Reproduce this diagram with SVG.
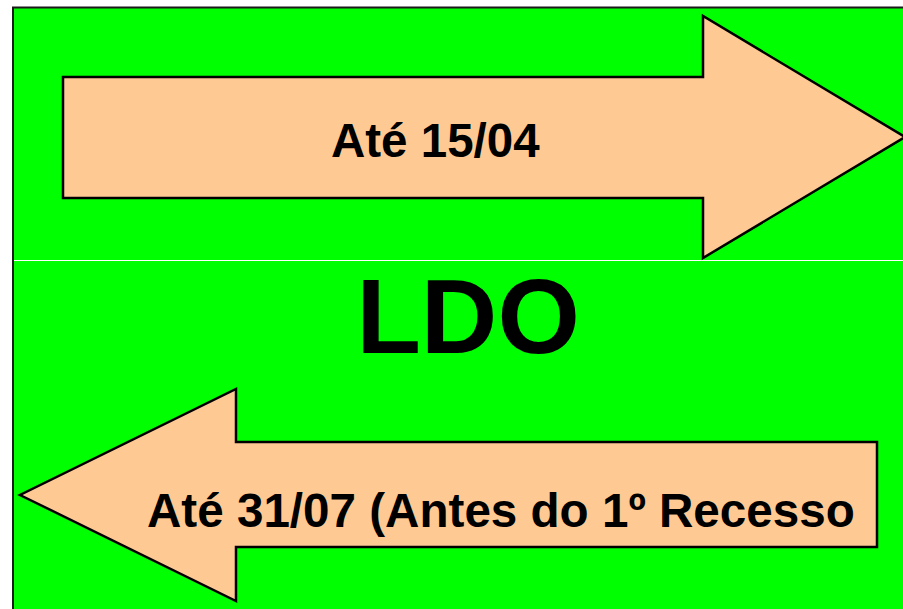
<svg xmlns="http://www.w3.org/2000/svg" width="903" height="609" viewBox="0 0 903 609">
<style>
.arrow{fill:#ffc993;stroke:#000;stroke-width:2.5;stroke-linejoin:miter}
.lbl{font-family:"Liberation Sans",Arial,sans-serif;font-weight:bold;fill:#000}
</style>
<rect x="0" y="0" width="903" height="609" fill="#fff"/>
<rect x="13" y="7.5" width="900" height="610" fill="#00ff00" stroke="#1a1a1a" stroke-width="2"/>
<line x1="14" y1="260.5" x2="903" y2="260.5" stroke="#fff" stroke-width="1.2"/>
<g id="arrow-top">
<polygon class="arrow" points="63,77 703,77 703,16 905,137 703,258 703,198 63,198"/>
<text class="lbl" x="331" y="157" font-size="47.5">Até 15/04</text>
</g>
<g id="ldo">
<text class="lbl" x="468" y="353" font-size="106" text-anchor="middle">LDO</text>
</g>
<g id="arrow-bottom">
<polygon class="arrow" points="877,442 236,442 236,389 20,495 236,601 236,547 877,547"/>
<text class="lbl" x="147" y="527" font-size="47.6">Até 31/07 (Antes do 1º Recesso</text>
</g>
<g id="connectors"/>
</svg>
